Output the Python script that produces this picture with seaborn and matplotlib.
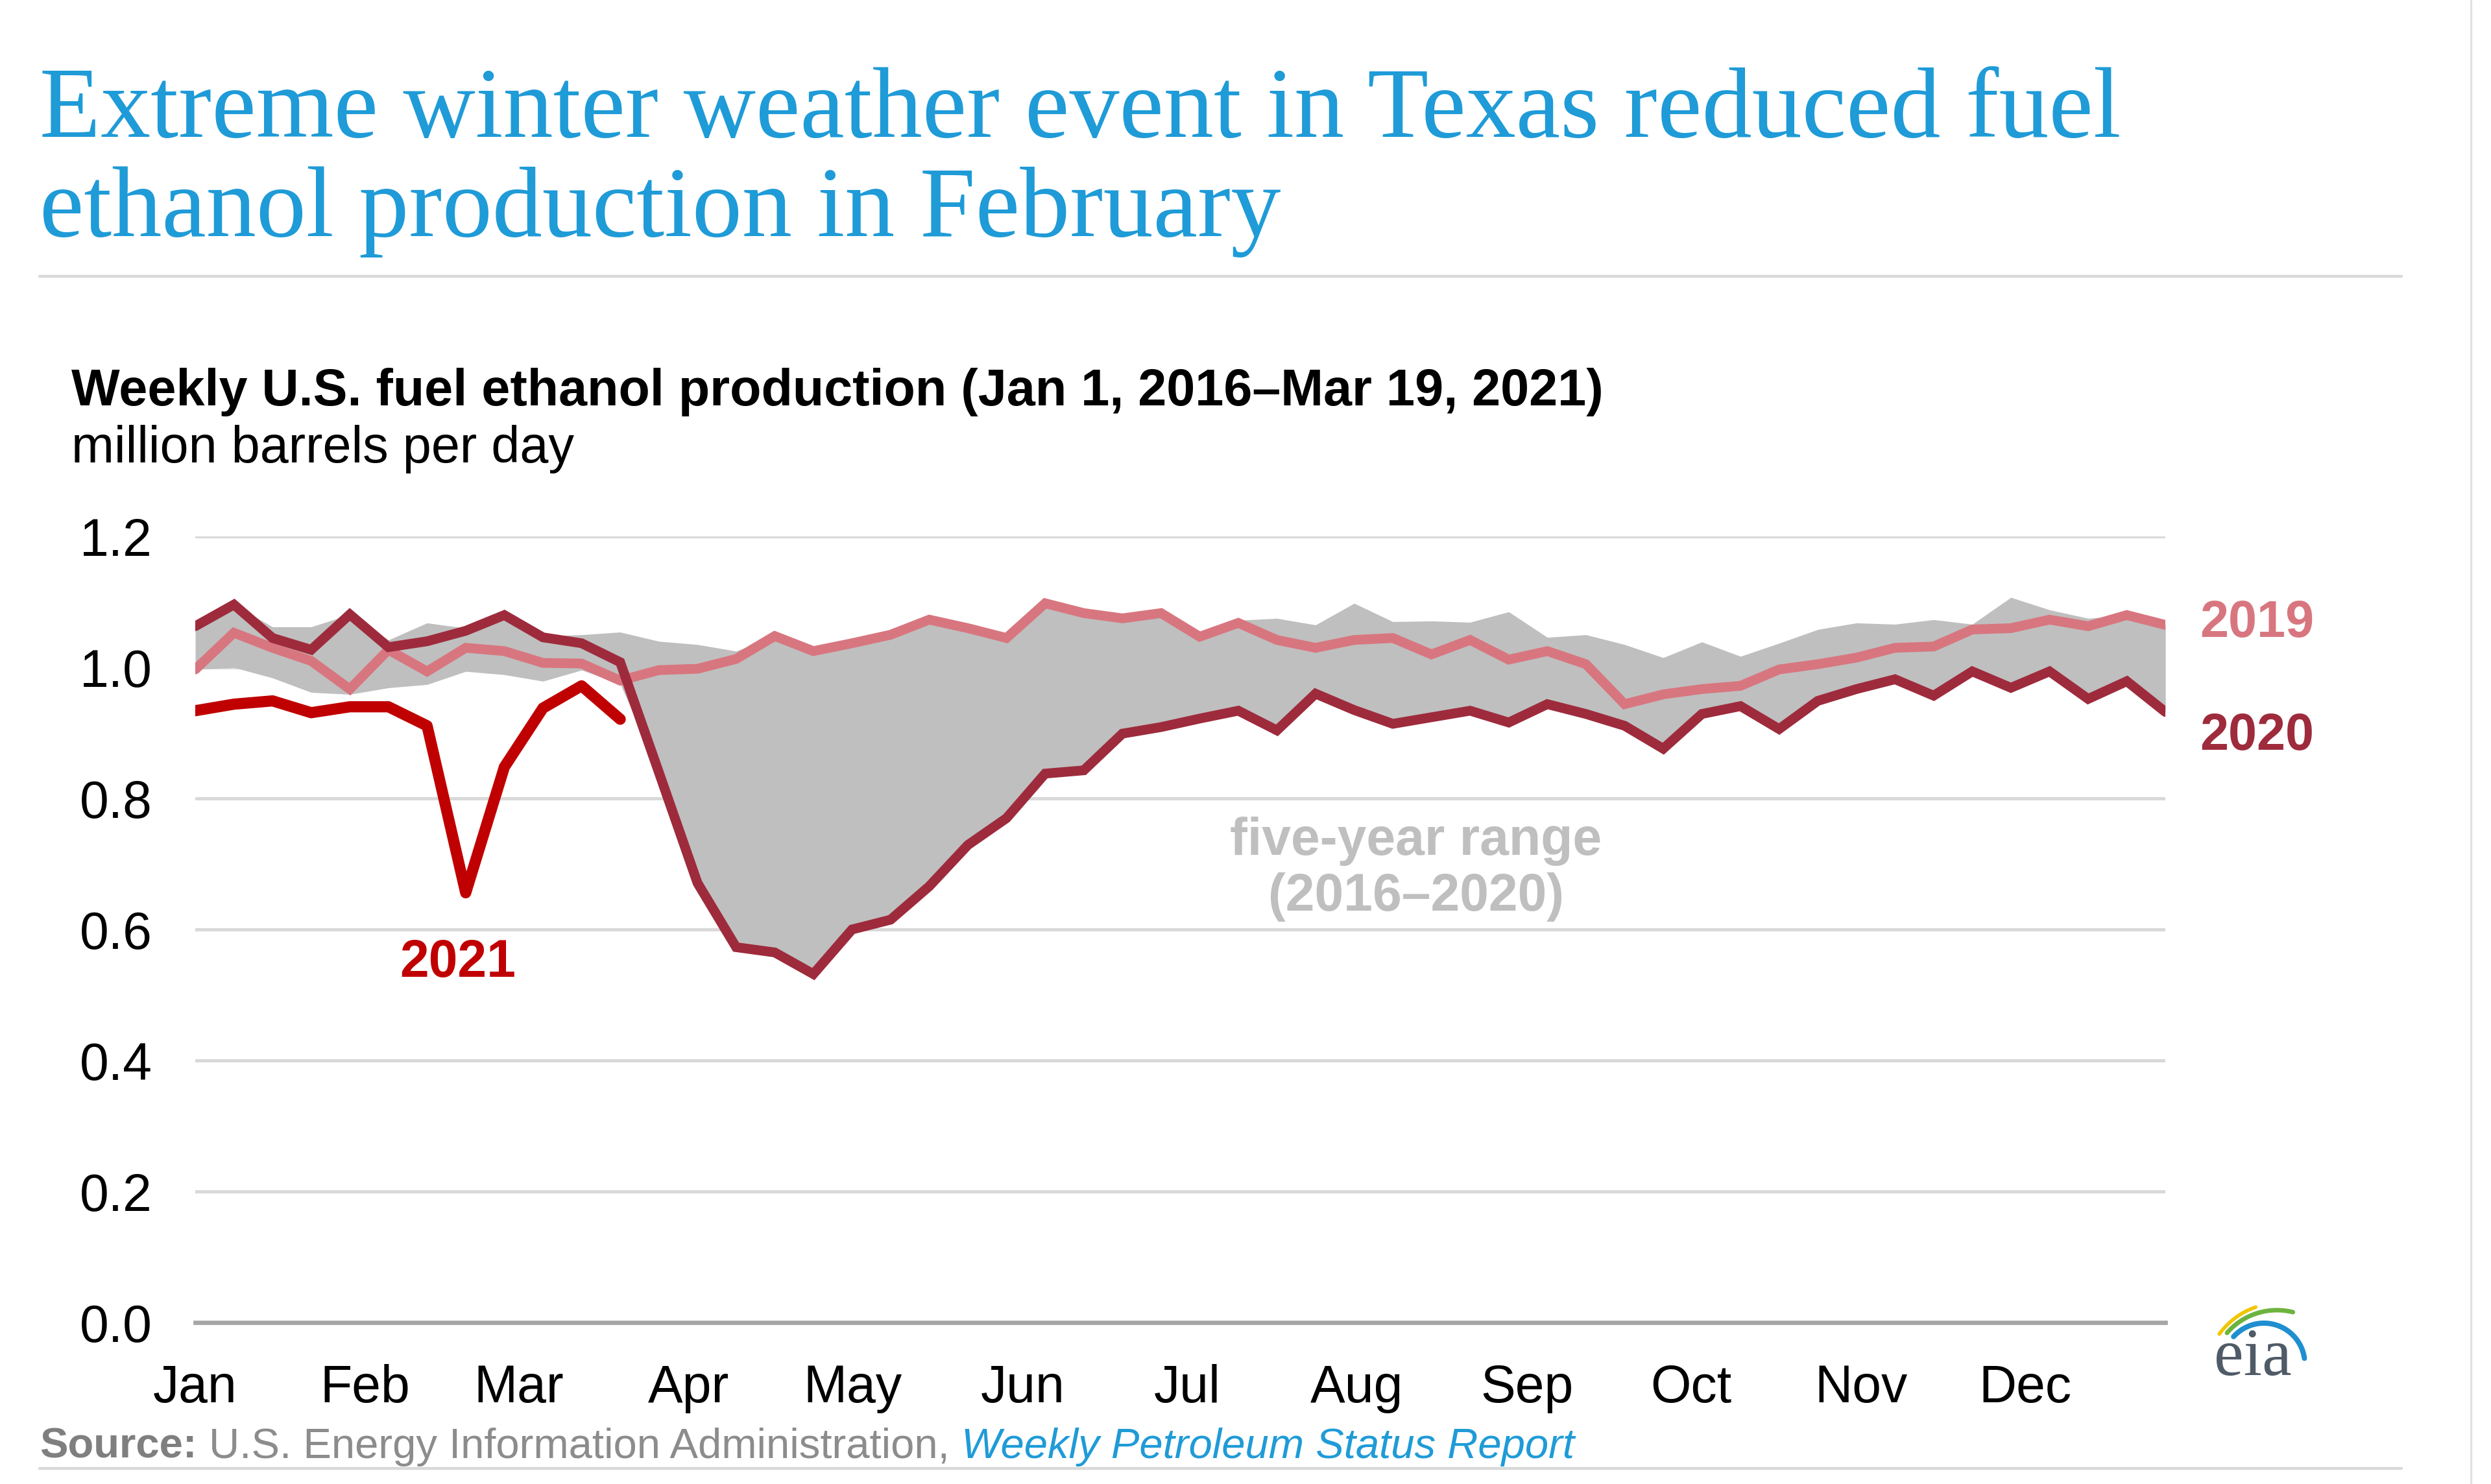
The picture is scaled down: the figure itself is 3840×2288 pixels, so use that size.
import numpy as np
import pandas as pd
import matplotlib
matplotlib.use("Agg")
import matplotlib.pyplot as plt
import seaborn as sns

# data (weekly, million barrels per day)
months = ["Jan", "Feb", "Mar", "Apr", "May", "Jun", "Jul", "Aug", "Sep", "Oct", "Nov", "Dec"]
month_start_day = [0, 31, 59, 90, 120, 151, 181, 212, 243, 273, 304, 334]

y2021 = [0.934, 0.944, 0.949, 0.931, 0.940, 0.940, 0.911, 0.656, 0.848, 0.938, 0.972, 0.921]

y2020 = [1.063, 1.096, 1.045, 1.027, 1.081, 1.031, 1.040, 1.056, 1.080, 1.046,
         1.037, 1.008, 0.840, 0.671, 0.573, 0.565, 0.532, 0.600, 0.615, 0.666,
         0.729, 0.770, 0.838, 0.843, 0.899, 0.909, 0.922, 0.934, 0.904, 0.960,
         0.935, 0.914, 0.924, 0.934, 0.916, 0.944, 0.929, 0.911, 0.876, 0.929,
         0.941, 0.906, 0.949, 0.967, 0.982, 0.957, 0.994, 0.969, 0.994, 0.952,
         0.979, 0.932]

y2019 = [0.997, 1.053, 1.030, 1.010, 0.967, 1.027, 0.994, 1.030, 1.025, 1.007,
         1.006, 0.980, 0.996, 0.998, 1.013, 1.048, 1.025, 1.037, 1.050, 1.073,
         1.060, 1.045, 1.098, 1.083, 1.075, 1.083, 1.047, 1.068, 1.042, 1.030,
         1.042, 1.045, 1.020, 1.042, 1.012, 1.025, 1.005, 0.944, 0.959, 0.967,
         0.972, 0.997, 1.005, 1.015, 1.030, 1.032, 1.058, 1.060, 1.073, 1.063,
         1.080, 1.065]

range_max = [1.065, 1.096, 1.062, 1.062, 1.081, 1.042, 1.068, 1.060, 1.080, 1.048,
             1.050, 1.054, 1.040, 1.035, 1.025, 1.048, 1.027, 1.037, 1.050, 1.073,
             1.060, 1.045, 1.098, 1.083, 1.075, 1.083, 1.050, 1.072, 1.075, 1.065,
             1.098, 1.070, 1.071, 1.069, 1.085, 1.046, 1.050, 1.035, 1.015, 1.039,
             1.017, 1.037, 1.058, 1.068, 1.066, 1.073, 1.066, 1.107, 1.088, 1.075,
             1.080, 1.065]

range_min = [0.997, 1.000, 0.984, 0.962, 0.959, 0.969, 0.974, 0.994, 0.989, 0.979,
             0.996, 0.975, 0.840, 0.671, 0.573, 0.565, 0.532, 0.600, 0.615, 0.666,
             0.729, 0.770, 0.838, 0.843, 0.899, 0.909, 0.922, 0.934, 0.904, 0.960,
             0.935, 0.914, 0.924, 0.934, 0.916, 0.944, 0.929, 0.911, 0.876, 0.929,
             0.941, 0.906, 0.949, 0.967, 0.982, 0.957, 0.994, 0.969, 0.994, 0.952,
             0.979, 0.932]

C2019 = "#D8767F"
C2020 = "#9E2B3C"
C2021 = "#C00000"
CRANGE = "#BFBFBF"
BLUE = "#1F9BD7"

sns.set_style("white")
plt.rcParams["font.family"] = ["Liberation Sans", "DejaVu Sans"]

weeks = np.arange(len(y2020))
weeks21 = np.arange(len(y2021))
df = pd.DataFrame({"week": weeks, "2019": y2019, "2020": y2020})
df21 = pd.DataFrame({"week": weeks21, "2021": y2021})

fig = plt.figure(figsize=(19.2, 11.44), dpi=200)
ax = fig.add_axes([0.0784, 0.1088, 0.7909, 0.5297])

ax.fill_between(weeks, range_min, range_max, color=CRANGE, lw=0, zorder=1)
line_kw = dict(solid_capstyle="round", solid_joinstyle="miter")
sns.lineplot(data=df, x="week", y="2019", ax=ax, color=C2019, lw=5.4, zorder=3, **line_kw)
sns.lineplot(data=df, x="week", y="2020", ax=ax, color=C2020, lw=5.4, zorder=4, **line_kw)
sns.lineplot(data=df21, x="week", y="2021", ax=ax, color=C2021, lw=6.2, zorder=5,
             solid_capstyle="round", solid_joinstyle="round")

ax.set_xlim(0, weeks[-1])
ax.set_ylim(0, 1.2)
yt = np.arange(0, 1.21, 0.2)
ax.set_yticks(yt)
ax.set_yticklabels([f"{v:.1f}" for v in yt])
ax.set_xticks([d / 7.05 for d in month_start_day])
ax.set_xticklabels(months)
ax.set_xlabel("")
ax.set_ylabel("")
ax.grid(axis="y", color="#D9D9D9", lw=1.8)
ax.grid(axis="x", visible=False)
ax.set_axisbelow(True)
for s in ["top", "right", "left"]:
    ax.spines[s].set_visible(False)
ax.spines["bottom"].set_color("#A6A6A6")
ax.spines["bottom"].set_linewidth(2.4)
ax.spines["bottom"].set_zorder(6)
ax.tick_params(axis="x", direction="out", length=12, width=1.0, color="#A6A6A6",
               pad=11, labelsize=29, labelcolor="black")
ax.tick_params(axis="y", length=0, pad=24, labelsize=29, labelcolor="black")

# annotations
ax.text(6.8, 0.549, "2021", color=C2021, fontsize=29, fontweight="bold", ha="center", va="center")
ax.text(31.6, 0.735, "five-year range", color=CRANGE, fontsize=29, fontweight="bold", ha="center", va="center")
ax.text(31.6, 0.650, "(2016\u20132020)", color=CRANGE, fontsize=29, fontweight="bold", ha="center", va="center")
ax.text(51.9, 1.067, "2019", color=C2019, fontsize=28.5, fontweight="bold", ha="left", va="center", clip_on=False)
ax.text(51.9, 0.895, "2020", color=C2020, fontsize=28.5, fontweight="bold", ha="left", va="center", clip_on=False)

# titles
fig.text(0.016, 0.9078, "Extreme winter weather event in Texas reduced fuel",
         family="Liberation Serif", fontsize=55.5, color=BLUE, va="baseline")
fig.text(0.016, 0.841, "ethanol production in February",
         family="Liberation Serif", fontsize=55.5, color=BLUE, va="baseline")
fig.add_artist(plt.Line2D([0.016, 0.964], [0.8138, 0.8138], color="#D9D9D9", lw=1.6))
fig.text(0.0287, 0.7268, "Weekly U.S. fuel ethanol production (Jan 1, 2016\u2013Mar 19, 2021)",
         fontsize=28.5, fontweight="bold", color="black", va="baseline")
fig.text(0.0287, 0.6884, "million barrels per day", fontsize=28.5, color="black", va="baseline")

# source line
fig.canvas.draw()
renderer = fig.canvas.get_renderer()
t1 = fig.text(0.016, 0.0175, "Source:", fontsize=23.5, fontweight="bold", color="#7F7F7F", va="baseline")
x = t1.get_window_extent(renderer).x1 / fig.bbox.width
t2 = fig.text(x, 0.0175, " U.S. Energy Information Administration, ", fontsize=23.5, color="#8C8C8C", va="baseline")
x = t2.get_window_extent(renderer).x1 / fig.bbox.width
fig.text(x, 0.0175, "Weekly Petroleum Status Report", fontsize=23.5, style="italic", color=BLUE, va="baseline")
fig.add_artist(plt.Line2D([0.016, 0.964], [0.0105, 0.0105], color="#D9D9D9", lw=1.6))
fig.add_artist(plt.Line2D([0.992, 0.992], [0.0, 1.0], color="#E3E3E3", lw=1.2))

# eia logo, drawn in pixel units of the output image
lg = fig.add_axes([3400 / 3840, 1 - 2125 / 2288, 160 / 3840, 125 / 2288])
lg.set_xlim(3400, 3560)
lg.set_ylim(2125, 2000)
lg.axis("off")
lg.text(3473, 2120, "eia", family="Liberation Serif", fontsize=37, color="#4F5B66",
        ha="center", va="baseline")
for cx, cy, r, t0, t1_, col, w in [(3515, 2125, 116, 144, 109, "#F2C500", 2.0),
                                    (3510, 2122, 102, 139, 76, "#6DB33F", 2.5),
                                    (3490, 2103, 63, 138, 8, "#1F8FD0", 2.9)]:
    tt = np.radians(np.linspace(t0, t1_, 40))
    lg.plot(cx + r * np.cos(tt), cy - r * np.sin(tt), color=col, lw=w, solid_capstyle="round")

fig.savefig("out.png", dpi=200, facecolor="white")
